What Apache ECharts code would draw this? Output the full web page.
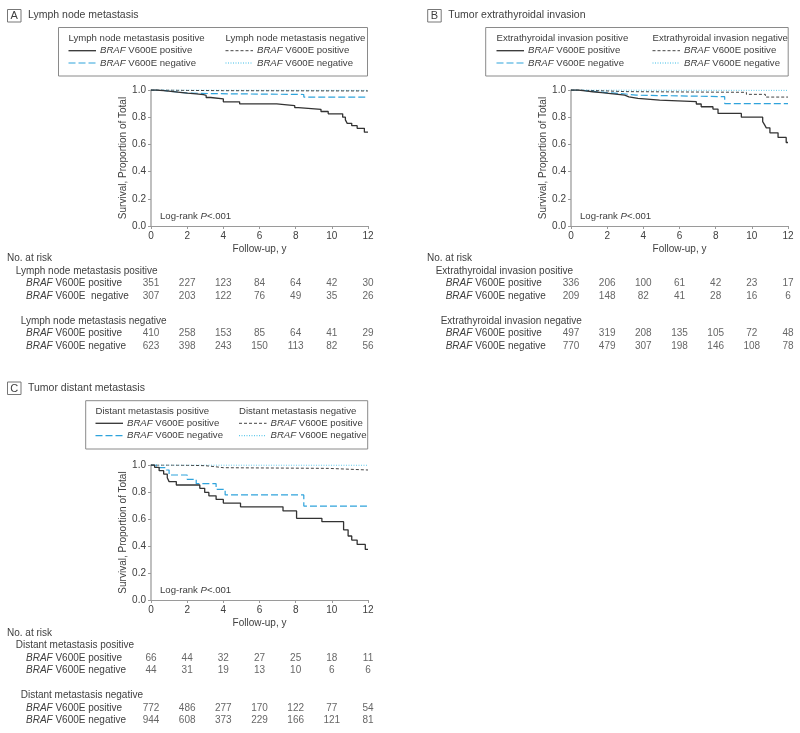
<!DOCTYPE html>
<html><head><meta charset="utf-8">
<script src="https://cdn.jsdelivr.net/npm/echarts@6/dist/echarts.min.js"></script>
<style>html,body{margin:0;padding:0;background:#fff}#c{width:800px;height:733px}</style>
</head><body><div id="c"></div><script>
// ---------- DATA ----------
const years = [0, 2, 4, 6, 8, 10, 12];
const yTicks = [0, 0.2, 0.4, 0.6, 0.8, 1.0];

// Panel A: Lymph node metastasis  (KM steps: [time, survival])
const A_LNpos_BRAFpos = [[0,1],[0.3,0.995],[0.7,0.99],[1.1,0.983],[1.6,0.977],[2.0,0.971],[2.5,0.966],[2.9,0.96],[3.05,0.945],[3.3,0.935],[4.0,0.913],[4.9,0.898],[6.95,0.885],[7.95,0.87],[8.15,0.858],[9.4,0.842],[9.8,0.825],[10.6,0.80],[10.75,0.78],[10.85,0.755],[11.1,0.738],[11.4,0.718],[11.8,0.69],[12,0.69]];
const A_LNpos_BRAFneg = [[0,1],[0.5,0.992],[1.0,0.985],[1.5,0.978],[2.0,0.973],[3.6,0.967],[8.45,0.948],[12,0.948]];
const A_LNneg_BRAFpos = [[0,1],[1,0.997],[2,0.995],[4,0.993],[12,0.993]];
const A_LNneg_BRAFneg = [[0,1],[2,0.998],[12,0.998]];
const A_risk_LNpos_BRAFpos = [351, 227, 123, 84, 64, 42, 30];
const A_risk_LNpos_BRAFneg = [307, 203, 122, 76, 49, 35, 26];
const A_risk_LNneg_BRAFpos = [410, 258, 153, 85, 64, 41, 29];
const A_risk_LNneg_BRAFneg = [623, 398, 243, 150, 113, 82, 56];

// Panel B: Tumor extrathyroidal invasion
const B_ETIpos_BRAFpos = [[0,1],[0.4,0.993],[0.8,0.987],[1.2,0.98],[1.7,0.974],[2.2,0.968],[2.6,0.962],[2.97,0.95],[3.2,0.939],[3.7,0.926],[4.9,0.914],[6.93,0.897],[7.2,0.877],[7.85,0.86],[8.13,0.828],[9.42,0.80],[10.6,0.767],[10.7,0.745],[10.8,0.722],[11.0,0.685],[11.45,0.651],[11.9,0.614],[12,0.614]];
const B_ETIpos_BRAFneg = [[0,1],[0.5,0.993],[1.0,0.987],[1.5,0.98],[2.0,0.975],[2.7,0.962],[3.6,0.951],[8.5,0.90],[12,0.90]];
const B_ETIneg_BRAFpos = [[0,1],[0.5,0.997],[1,0.993],[2,0.988],[3,0.983],[9.7,0.968],[10.75,0.948],[12,0.948]];
const B_ETIneg_BRAFneg = [[0,1],[1,0.998],[12,0.998]];
const B_risk_ETIpos_BRAFpos = [336, 206, 100, 61, 42, 23, 17];
const B_risk_ETIpos_BRAFneg = [209, 148, 82, 41, 28, 16, 6];
const B_risk_ETIneg_BRAFpos = [497, 319, 208, 135, 105, 72, 48];
const B_risk_ETIneg_BRAFneg = [770, 479, 307, 198, 146, 108, 78];

// Panel C: Tumor distant metastasis
const C_DMpos_BRAFpos = [[0,1],[0.2,0.983],[0.45,0.958],[0.7,0.933],[0.9,0.905],[1.0,0.877],[1.4,0.852],[2.7,0.827],[2.97,0.797],[3.2,0.772],[3.6,0.745],[4.0,0.718],[4.95,0.69],[7.3,0.66],[8.05,0.605],[9.45,0.58],[10.65,0.52],[10.9,0.474],[11.1,0.444],[11.4,0.412],[11.85,0.375],[12,0.375]];
const C_DMpos_BRAFneg = [[0,1],[0.3,0.98],[0.85,0.963],[1.0,0.926],[2.0,0.894],[2.5,0.862],[3.6,0.82],[4.1,0.778],[8.45,0.696],[12,0.696]];
const C_DMneg_BRAFpos = [[0,1],[1,0.998],[2,0.995],[3,0.988],[3.5,0.98],[4,0.975],[9.8,0.963],[12,0.963]];
const C_DMneg_BRAFneg = [[0,1],[1,0.999],[12,0.999]];
const C_risk_DMpos_BRAFpos = [66, 44, 32, 27, 25, 18, 11];
const C_risk_DMpos_BRAFneg = [44, 31, 19, 13, 10, 6, 6];
const C_risk_DMneg_BRAFpos = [772, 486, 277, 170, 122, 77, 54];
const C_risk_DMneg_BRAFneg = [944, 608, 373, 229, 166, 121, 81];

// ---------- STYLE / LAYOUT ----------
const FF = "'Liberation Sans', Arial, sans-serif";
const TXT = '#404040';
const FS = 10;
const STY = [
  {color:'#333333', width:1.3, type:'solid'},
  {color:'#2fa3dc', width:1.2, type:[7,3]},
  {color:'#444444', width:1.0, type:[3,2]},
  {color:'#3dbde6', width:1.0, type:[1,1.5]}
];
const rowH = 12.5;

const panels = [
  { letter:'A', title:'Lymph node metastasis', boxX:7.5, boxY:9.5, titleY:15.5,
    plot:{left:151, top:90, width:217, height:136},
    legend:{x:58.5, y:27.5, w:309, h:48.5, lx:68.5, rx:225.5, hy:38.5, r1:50.7, r2:63},
    hdr:['Lymph node metastasis positive','Lymph node metastasis negative'],
    tableTop:252.25, tx:[7,15.7,26,20.7],
    curves:[A_LNpos_BRAFpos, A_LNpos_BRAFneg, A_LNneg_BRAFpos, A_LNneg_BRAFneg],
    risk:[A_risk_LNpos_BRAFpos, A_risk_LNpos_BRAFneg, A_risk_LNneg_BRAFpos, A_risk_LNneg_BRAFneg],
    rowLabels:['{i|BRAF} V600E positive','{i|BRAF} V600E  negative','{i|BRAF} V600E positive','{i|BRAF} V600E negative'] },
  { letter:'B', title:'Tumor extrathyroidal invasion', boxX:427.7, boxY:9.5, titleY:15.5,
    plot:{left:571, top:90, width:217, height:136},
    legend:{x:485.7, y:27.5, w:302.5, h:48.5, lx:496.5, rx:652.5, hy:38.5, r1:50.7, r2:63},
    hdr:['Extrathyroidal invasion positive','Extrathyroidal invasion negative'],
    tableTop:252.25, tx:[427,435.7,445.7,440.7],
    curves:[B_ETIpos_BRAFpos, B_ETIpos_BRAFneg, B_ETIneg_BRAFpos, B_ETIneg_BRAFneg],
    risk:[B_risk_ETIpos_BRAFpos, B_risk_ETIpos_BRAFneg, B_risk_ETIneg_BRAFpos, B_risk_ETIneg_BRAFneg],
    rowLabels:['{i|BRAF} V600E positive','{i|BRAF} V600E negative','{i|BRAF} V600E positive','{i|BRAF} V600E negative'] },
  { letter:'C', title:'Tumor distant metastasis', boxX:7.5, boxY:382, titleY:388.5,
    plot:{left:151, top:465, width:217, height:135},
    legend:{x:85.7, y:400.7, w:282, h:48.3, lx:95.5, rx:239, hy:411.7, r1:423.3, r2:435.7},
    hdr:['Distant metastasis positive','Distant metastasis negative'],
    tableTop:626.75, tx:[7,15.7,26,20.7],
    curves:[C_DMpos_BRAFpos, C_DMpos_BRAFneg, C_DMneg_BRAFpos, C_DMneg_BRAFneg],
    risk:[C_risk_DMpos_BRAFpos, C_risk_DMpos_BRAFneg, C_risk_DMneg_BRAFpos, C_risk_DMneg_BRAFneg],
    rowLabels:['{i|BRAF} V600E positive','{i|BRAF} V600E negative','{i|BRAF} V600E positive','{i|BRAF} V600E negative'] }
];
const groupWord = {A:['Lymph node metastasis positive','Lymph node metastasis negative'],
                   B:['Extrathyroidal invasion positive','Extrathyroidal invasion negative'],
                   C:['Distant metastasis positive','Distant metastasis negative']};

// ---------- BUILD ----------
function txt(x, y, text, size, align){
  const s = size || FS;
  return {type:'text', x:x, y:y, silent:true,
    style:{text:text, fill:TXT, fontSize:s, fontFamily:FF, align:align||'left', verticalAlign:'middle',
      rich:{i:{fontStyle:'italic', fontSize:s, fontFamily:FF, fill:TXT}}}};
}
function seg(x1,y1,x2,y2,s){
  return {type:'line', silent:true, shape:{x1:x1,y1:y1,x2:x2,y2:y2},
    style:{stroke:s.color, lineWidth:s.width, lineDash: s.type==='solid'?null:s.type}};
}

const grid=[], xAxis=[], yAxis=[], series=[], graphic=[];
panels.forEach((p, pi) => {
  grid.push(Object.assign({}, p.plot));
  xAxis.push({type:'value', gridIndex:pi, min:0, max:12, interval:2,
    name:'Follow-up, y', nameLocation:'middle', nameGap:18.5,
    nameTextStyle:{color:TXT, fontSize:FS, fontFamily:FF},
    axisLine:{show:true, lineStyle:{color:'#9a9a9a', width:1}},
    axisTick:{show:true, length:3, lineStyle:{color:'#9a9a9a'}},
    axisLabel:{color:TXT, fontSize:FS, fontFamily:FF, margin:5},
    splitLine:{show:false}});
  yAxis.push({type:'value', gridIndex:pi, min:0, max:1, interval:0.2,
    name:'Survival, Proportion of Total', nameLocation:'middle', nameGap:21,
    nameTextStyle:{color:TXT, fontSize:FS, fontFamily:FF},
    axisLine:{show:true, lineStyle:{color:'#b0b0b0', width:1.6}},
    axisTick:{show:true, length:3, lineStyle:{color:'#9a9a9a'}},
    axisLabel:{color:TXT, fontSize:FS, fontFamily:FF, margin:5, formatter:v=>v.toFixed(1)},
    splitLine:{show:false}});
  p.curves.forEach((c, ci) => {
    series.push({type:'line', xAxisIndex:pi, yAxisIndex:pi, data:c, step:'end',
      showSymbol:false, symbol:'none', z: 10-ci,
      lineStyle:{color:STY[ci].color, width:STY[ci].width, type:STY[ci].type}, silent:true});
  });

  // title
  graphic.push({type:'rect', silent:true, shape:{x:p.boxX, y:p.boxY, width:13.5, height:12.5},
    style:{fill:'none', stroke:'#777', lineWidth:1}});
  graphic.push(txt(p.boxX+6.75, p.titleY+0.3, p.letter, 11, 'center'));
  graphic.push(txt(p.boxX+20.5, p.titleY, p.title, 10.5));
  // legend
  const L = p.legend;
  graphic.push({type:'rect', silent:true, shape:{x:L.x, y:L.y, width:L.w, height:L.h},
    style:{fill:'none', stroke:'#8a8a8a', lineWidth:1}});
  graphic.push(txt(L.lx, L.hy, p.hdr[0], 9.6));
  graphic.push(txt(L.rx, L.hy, p.hdr[1], 9.6));
  const items = [[L.lx, L.r1, 0, '{i|BRAF} V600E positive'], [L.lx, L.r2, 1, '{i|BRAF} V600E negative'],
                 [L.rx, L.r1, 2, '{i|BRAF} V600E positive'], [L.rx, L.r2, 3, '{i|BRAF} V600E negative']];
  items.forEach(it => {
    graphic.push(seg(it[0], it[1], it[0]+27.5, it[1], STY[it[2]]));
    graphic.push(txt(it[0]+31.5, it[1], it[3], 9.6));
  });
  // log-rank
  graphic.push(txt(p.plot.left+9, p.plot.top+p.plot.height-10, 'Log-rank {i|P}<.001', 9.6));
});

// risk tables
panels.forEach((p, pi) => {
  const gi = 3 + pi;
  grid.push({left:p.plot.left, top:p.tableTop, width:p.plot.width, height:rowH*8});
  xAxis.push({type:'value', gridIndex:gi, min:0, max:12, show:false});
  yAxis.push({type:'category', gridIndex:gi, inverse:true, show:false,
    data:['0','1','2','3','4','5','6','7']});
  const rowIdx = [2, 3, 6, 7];
  p.risk.forEach((arr, k) => {
    series.push({type:'scatter', xAxisIndex:gi, yAxisIndex:gi, symbolSize:1,
      itemStyle:{color:'rgba(0,0,0,0)'}, silent:true,
      data: years.map((yr, i) => [yr, rowIdx[k], arr[i]]),
      label:{show:true, position:'inside', formatter: d => String(d.value[2]),
        color:TXT, fontSize:FS, fontFamily:FF}});
  });
  const ry = i => p.tableTop + (i + 0.5) * rowH;
  graphic.push(txt(p.tx[0], ry(0), 'No. at risk'));
  graphic.push(txt(p.tx[1], ry(1), groupWord[p.letter][0]));
  graphic.push(txt(p.tx[2], ry(2), p.rowLabels[0]));
  graphic.push(txt(p.tx[2], ry(3), p.rowLabels[1]));
  graphic.push(txt(p.tx[3], ry(5), groupWord[p.letter][1]));
  graphic.push(txt(p.tx[2], ry(6), p.rowLabels[2]));
  graphic.push(txt(p.tx[2], ry(7), p.rowLabels[3]));
});

const chart = echarts.init(document.getElementById('c'), null, {renderer:'canvas'});
chart.setOption({
  animation:false, backgroundColor:'#fff',
  textStyle:{fontFamily:FF},
  grid:grid, xAxis:xAxis, yAxis:yAxis, series:series, graphic:graphic
});
</script></body></html>
